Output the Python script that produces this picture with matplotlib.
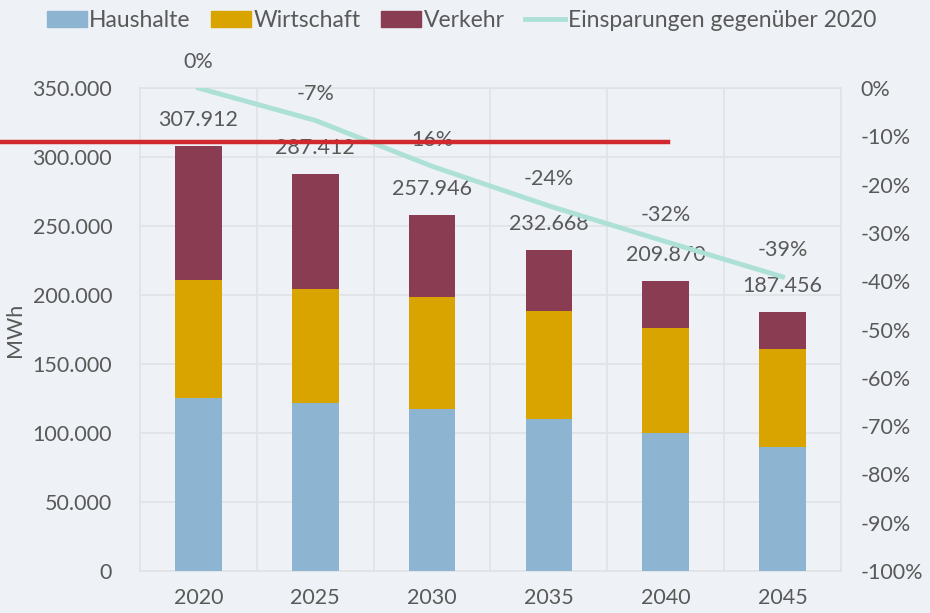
import matplotlib.pyplot as plt
from matplotlib.patches import Patch
from matplotlib.lines import Line2D
from matplotlib.ticker import FuncFormatter, MultipleLocator
import matplotlib.transforms as mtransforms

# Energieverbrauch nach Sektoren (MWh)
jahre = ['2020', '2025', '2030', '2035', '2040', '2045']
haushalte = [125400, 121600, 117400, 110100, 100000, 89900]
wirtschaft = [85500, 82700, 81200, 78300, 76000, 71000]
gesamt = [307912, 287412, 257946, 232668, 209870, 187456]
verkehr = [g - h - w for g, h, w in zip(gesamt, haushalte, wirtschaft)]

# Einsparungen gegenüber 2020
einsparung = [0.0, -0.067, -0.162, -0.244, -0.318, -0.391]
einsparung_text = ['0%', '-7%', '16%', '-24%', '-32%', '-39%']

# rote Markierungslinie
marke = 311000

bg = '#eef2f6'
grau = '#595959'
c_haus = '#8db4d0'
c_wirt = '#d9a400'
c_verk = '#8a3c52'
c_line = '#ade0d6'
fs = 15.5

plt.rcParams['font.family'] = ['Lato', 'DejaVu Sans']

fig = plt.figure(figsize=(9.3, 6.13), dpi=100, facecolor=bg)
ax = fig.add_axes([0.1505, 0.0685, 0.7538, 0.7879], facecolor=bg)

x = list(range(len(jahre)))
b = 0.4
ax.bar(x, haushalte, b, color=c_haus, zorder=3)
ax.bar(x, wirtschaft, b, bottom=haushalte, color=c_wirt, zorder=3)
boden = [h + w for h, w in zip(haushalte, wirtschaft)]
ax.bar(x, verkehr, b, bottom=boden, color=c_verk, zorder=3)

for xi, g in zip(x, gesamt):
    ax.annotate(f'{g:,}'.replace(',', '.'), (xi, g), xytext=(0, 19),
                textcoords='offset points', ha='center', va='center',
                fontsize=fs, color=grau, zorder=5)

ax.set_xlim(-0.5, 5.5)
ax.set_ylim(0, 350000)
ax.yaxis.set_major_locator(MultipleLocator(50000))
ax.yaxis.set_major_formatter(FuncFormatter(lambda v, p: f'{int(v):,}'.replace(',', '.')))
ax.set_xticks(x)
ax.set_xticklabels(jahre)
ax.set_xticks([i + 0.5 for i in x[:-1]], minor=True)
ax.grid(axis='y', color='#e0e3e6', lw=1.2, zorder=0)
ax.grid(axis='x', which='minor', color='#e0e3e6', lw=1.2, zorder=0)
ax.tick_params(which='both', length=0, labelsize=fs, colors=grau, pad=12)
ax.tick_params(axis='y', pad=20)
ax.set_ylabel('MWh', fontsize=fs, color=grau, labelpad=5)
for s in ax.spines.values():
    s.set_color('#e0e3e6')
    s.set_linewidth(1.2)

ax2 = ax.twinx()
ax2.plot(x, einsparung, color=c_line, lw=3.5, zorder=4)
for xi, e, t in zip(x, einsparung, einsparung_text):
    ax2.annotate(t, (xi, e), xytext=(0, 19), textcoords='offset points',
                 ha='center', va='center', fontsize=fs, color=grau)
ax2.set_ylim(-1.0, 0.0)
ax2.yaxis.set_major_locator(MultipleLocator(0.1))
ax2.yaxis.set_major_formatter(FuncFormatter(lambda v, p: f'{round(v * 100):d}%'))
ax2.tick_params(length=0, labelsize=fs, colors=grau, pad=14)
for s in ax2.spines.values():
    s.set_visible(False)

# rote Linie von linkem Bildrand
trans = mtransforms.blended_transform_factory(fig.transFigure, ax.transData)
fig.lines.append(Line2D([0, 0.718], [marke, marke], transform=trans,
                        color='#d0282e', lw=3.2, zorder=10))

handles = [Patch(color=c_haus), Patch(color=c_wirt), Patch(color=c_verk),
           Line2D([], [], color=c_line, lw=3.5)]
labels = ['Haushalte', 'Wirtschaft', 'Verkehr', 'Einsparungen gegenüber 2020']
fig.legend(handles, labels, loc='center', bbox_to_anchor=(0.496, 0.967), ncol=4,
           frameon=False, fontsize=16.5, labelcolor=grau, handlelength=1.75,
           handleheight=0.7, handletextpad=0.1, columnspacing=0.9)

fig.savefig('out.png', dpi=100, facecolor=bg)
